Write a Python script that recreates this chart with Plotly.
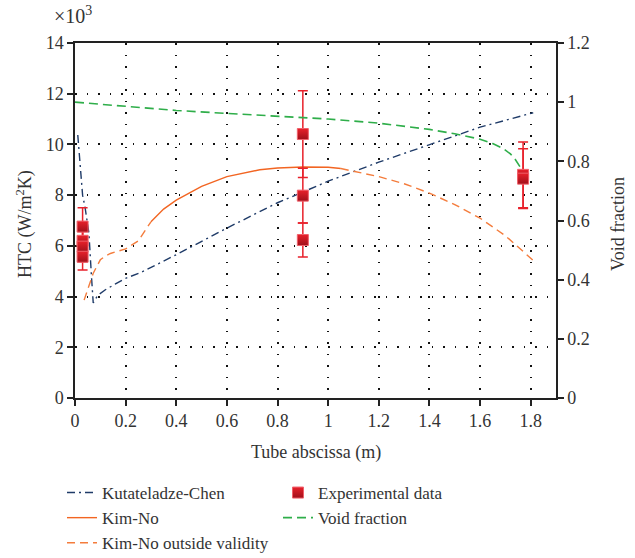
import plotly.graph_objects as go

# Kutateladze-Chen correlation (HTC, x10^3 W/m2K)
kc_x = [0.011, 0.02, 0.03, 0.04, 0.055, 0.065, 0.072, 0.09, 0.12, 0.16, 0.2, 0.26, 0.4, 0.6, 0.8, 0.9, 1.0, 1.2, 1.4, 1.6, 1.81]
kc_y = [10.37, 9.2, 8.0, 7.5, 6.5, 4.8, 3.75, 4.05, 4.27, 4.5, 4.72, 4.95, 5.65, 6.7, 7.7, 8.12, 8.55, 9.3, 10.0, 10.68, 11.25]

# Kim-No (valid range)
kn_x = [0.3, 0.35, 0.4, 0.5, 0.6, 0.73, 0.8, 0.9, 1.0, 1.05]
kn_y = [6.95, 7.45, 7.8, 8.35, 8.73, 9.0, 9.07, 9.11, 9.1, 9.05]

# Kim-No outside validity (left and right parts)
kno_left_x = [0.036, 0.057, 0.072, 0.1, 0.12, 0.14, 0.2, 0.25, 0.3]
kno_left_y = [3.86, 4.45, 4.92, 5.45, 5.6, 5.7, 5.88, 6.2, 6.95]
kno_right_x = [1.05, 1.1, 1.2, 1.3, 1.4, 1.5, 1.6, 1.7, 1.823]
kno_right_y = [9.05, 8.95, 8.73, 8.45, 8.08, 7.63, 7.09, 6.4, 5.31]

# Void fraction (right axis)
vf_x = [0.0, 0.2, 0.4, 0.6, 0.8, 1.0, 1.2, 1.4, 1.5, 1.6, 1.65, 1.69, 1.72, 1.74, 1.763]
vf_y = [1.0, 0.985, 0.972, 0.962, 0.953, 0.943, 0.929, 0.908, 0.893, 0.875, 0.86, 0.844, 0.825, 0.805, 0.775]

# Experimental data
exp_x = [0.03, 0.03, 0.03, 0.03, 0.9, 0.9, 0.9, 1.77, 1.77]
exp_y = [6.76, 6.2, 5.97, 5.57, 10.41, 7.98, 6.23, 8.8, 8.65]
exp_err = [0.74, 0.6, 0.6, 0.52, 1.71, 1.08, 0.67, 1.3, 1.18]

FONT = "Liberation Serif"
navy = "#1f3b68"
orange = "#f26522"
orange_l = "#f47c3c"
green = "#2fae4a"
red = "#e8212b"
TXT = "#333"

fig = go.Figure()

fig.add_trace(go.Scatter(x=kc_x, y=kc_y, mode="lines", name="Kutateladze-Chen", legend="legend",
                         line=dict(color=navy, width=1.4, dash="8px,4px,2px,4px")))
fig.add_trace(go.Scatter(x=kn_x, y=kn_y, mode="lines", name="Kim-No", legend="legend",
                         line=dict(color=orange, width=1.4)))
fig.add_trace(go.Scatter(x=kno_left_x, y=kno_left_y, mode="lines", name="Kim-No outside validity",
                         legend="legend",
                         line=dict(color=orange_l, width=1.4, dash="8px,5px")))
fig.add_trace(go.Scatter(x=kno_right_x, y=kno_right_y, mode="lines", name="Kim-No outside validity",
                         showlegend=False,
                         line=dict(color=orange_l, width=1.4, dash="8px,5px")))
fig.add_trace(go.Scatter(x=exp_x, y=exp_y, mode="markers", name="Experimental data", legend="legend2",
                         marker=dict(symbol="square", size=11, color=red,
                                     line=dict(color="#f0606a", width=1),
                                     gradient=dict(type="vertical", color="#a0101a")),
                         error_y=dict(type="data", array=exp_err, visible=True,
                                      color=red, thickness=1.5, width=5)))
fig.add_trace(go.Scatter(x=vf_x, y=vf_y, mode="lines", name="Void fraction", yaxis="y2", legend="legend2",
                         line=dict(color=green, width=1.6, dash="9px,5px")))

axis_common = dict(showline=True, linecolor="#222", linewidth=1.5, ticks="outside",
                   ticklen=6, tickwidth=1.5, tickcolor="#222", automargin=False,
                   tickfont=dict(family=FONT, size=18, color=TXT), zeroline=False)
grid_common = dict(showgrid=True, gridcolor="#111", gridwidth=1.5, griddash="1.5px,10px")

legend_common = dict(orientation="v", xref="paper", yref="paper", yanchor="top",
                     xanchor="left", tracegroupgap=0, bgcolor="rgba(0,0,0,0)",
                     font=dict(family=FONT, size=17, color=TXT))

PW, PH, PL, PB = 481.0, 355.0, 75.0, 398.0


def px_x(p):
    return (p - PL) / PW


def px_y(p):
    return (PB - p) / PH


title_font = dict(family=FONT, size=18, color=TXT)

fig.update_layout(
    width=635, height=558,
    margin=dict(l=75, r=79, t=43, b=160, autoexpand=False),
    plot_bgcolor="white", paper_bgcolor="white",
    font=dict(family=FONT, size=17, color=TXT),
    xaxis=dict(range=[0, 1.9], dtick=0.2, tick0=0, mirror=True,
               **grid_common, **axis_common),
    yaxis=dict(range=[0, 14], dtick=2, tick0=0,
               **grid_common, **axis_common),
    yaxis2=dict(range=[0, 1.2], dtick=0.2, tick0=0, overlaying="y", side="right",
                showgrid=False, **axis_common),
    legend=dict(x=px_x(62), y=px_y(475), **legend_common),
    legend2=dict(x=px_x(278), y=px_y(475), **legend_common),
    showlegend=True,
    annotations=[
        dict(text="×10<sup>3</sup>", xref="paper", yref="paper", x=px_x(52), y=px_y(15),
             xanchor="left", yanchor="middle", showarrow=False,
             font=dict(family=FONT, size=20, color=TXT)),
        dict(text="HTC (W/m<sup>2</sup>K)", xref="paper", yref="paper", x=px_x(25), y=0.49,
             xanchor="center", yanchor="middle", textangle=-90, showarrow=False, font=title_font),
        dict(text="Void fraction", xref="paper", yref="paper", x=px_x(618), y=0.49,
             xanchor="center", yanchor="middle", textangle=-90, showarrow=False, font=title_font),
        dict(text="Tube abscissa (m)", xref="paper", yref="paper", x=0.5, y=px_y(452),
             xanchor="center", yanchor="middle", showarrow=False, font=title_font),
    ],
)

fig.write_html("out.html")
